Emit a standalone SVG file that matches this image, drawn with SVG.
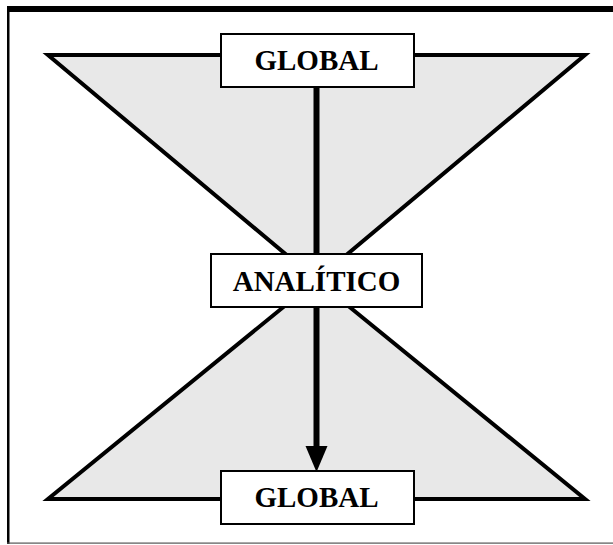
<svg xmlns="http://www.w3.org/2000/svg" width="613" height="545" viewBox="0 0 613 545">
<style>
.tri{fill:#e8e8e8;stroke:#000;stroke-width:4;stroke-linejoin:miter;stroke-miterlimit:10}
.box{fill:#fff;stroke:#000;stroke-width:2}
.lbl{font-family:"Liberation Serif","Times New Roman",serif;font-weight:bold;font-size:29px;text-anchor:middle;fill:#000}
</style>
<rect width="613" height="545" fill="#fff"/>
<g id="frame">
<rect x="7" y="6" width="606" height="6" fill="#000"/>
<rect x="7" y="6" width="2.5" height="538" fill="#000"/>
<rect x="7" y="542.5" width="606" height="1.2" fill="#555"/>
</g>
<g id="hourglass">
<polygon class="tri" points="48,55 585,55 316.5,280"/>
<polygon class="tri" points="48,499 585,499 316.5,280"/>
</g>
<g id="connectors">
<line x1="316.5" y1="87" x2="316.5" y2="452" stroke="#000" stroke-width="6"/>
<path d="M305.5,446 L327.5,446 L316.5,472 Z" fill="#000"/>
</g>
<g id="global-top">
<rect class="box" x="221" y="34" width="193" height="53"/>
<text class="lbl" x="316.5" y="70">GLOBAL</text>
</g>
<g id="analitico">
<rect class="box" x="211" y="254" width="211" height="53"/>
<text class="lbl" x="316.5" y="291">ANALÍTICO</text>
</g>
<g id="global-bottom">
<rect class="box" x="221" y="471" width="193" height="53"/>
<text class="lbl" x="316.5" y="507">GLOBAL</text>
</g>
</svg>
